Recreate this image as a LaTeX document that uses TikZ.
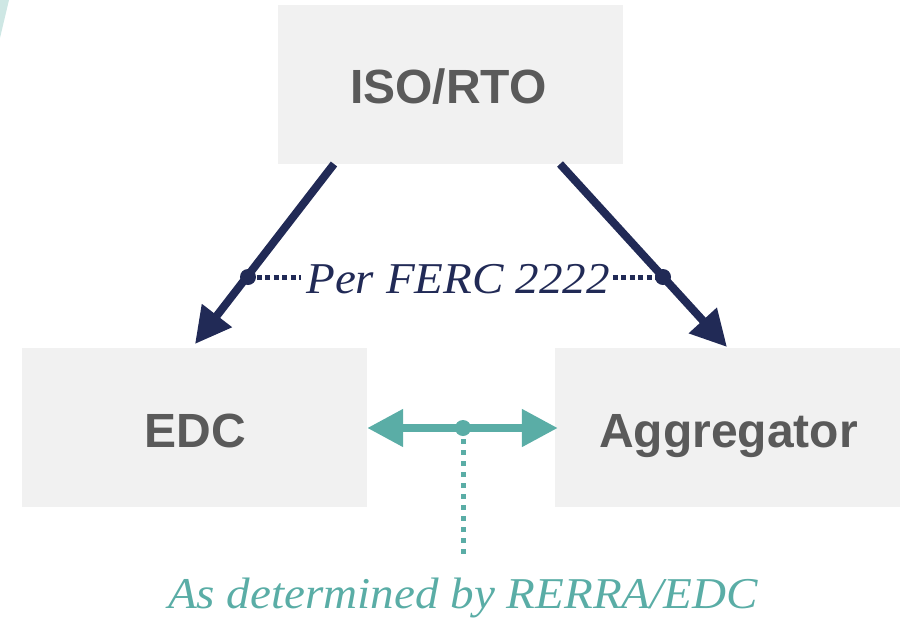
\documentclass[tikz,border=0pt]{standalone}
\usepackage{fontspec}
\setmainfont{Liberation Sans}
\newfontfamily\lblfont[FakeStretch=1.07]{Liberation Serif}
\usetikzlibrary{arrows.meta}
\definecolor{navy}{HTML}{212A56}
\definecolor{tealc}{HTML}{5AADA6}
\definecolor{boxgray}{HTML}{F1F1F1}
\definecolor{txtgray}{HTML}{5A5A5A}
\begin{document}
\begin{tikzpicture}[x=1pt,y=-1pt,
  box/.style={fill=boxgray, draw=none, minimum width=345pt, minimum height=159pt, inner sep=0pt},
  boxtext/.style={font=\fontsize{48}{48}\selectfont\bfseries, text=txtgray, anchor=base, inner sep=0pt},
  lbl/.style={font=\lblfont\itshape\fontsize{44}{44}\selectfont, anchor=base, inner sep=0pt},
  navyarrow/.style={draw=navy, line width=8pt, -{Triangle[length=36pt,width=36pt]}},
  navydot/.style={draw=navy, line width=5pt, dash pattern=on 5pt off 3.5pt},
  tealarrow/.style={draw=tealc, line width=8pt, {Triangle[length=36pt,width=36pt]}-{Triangle[length=36pt,width=36pt]}},
  tealdot/.style={draw=tealc, line width=5pt, dash pattern=on 5pt off 6pt}]
\useasboundingbox (0,0) rectangle (905,619);
\fill[tealc!30] (0,0) -- (9,0) -- (0,38) -- cycle;
% boxes
\node[box] (iso) at (450.5,84.5) {};
\node[box] (edc) at (194.5,427.5) {};
\node[box] (agg) at (727.5,427.5) {};
\node[boxtext] (isot) at (448.5,103) {ISO/RTO};
\node[boxtext] (edct) at (195,447) {EDC};
\node[boxtext] (aggt) at (728.5,447) {Aggregator};
% navy arrows
\coordinate (a1) at (334,164);
\coordinate (t1) at (195,344);
\coordinate (a2) at (560,164);
\coordinate (t2) at (727,347);
\draw[navyarrow] (a1) -- (t1);
\draw[navyarrow] (a2) -- (t2);
\coordinate (d1) at (248,277);
\coordinate (d2) at (663,277);
\node[lbl, text=navy] (per) at (458,293) {Per FERC 2222};
\draw[navydot] (d1) -- ([xshift=-5pt]per.west |- d1);
\draw[navydot] ([xshift=3pt]per.east |- d2) -- (d2);
\fill[navy] (d1) circle (8pt);
\fill[navy] (d2) circle (8pt);
% teal
\coordinate (m) at (463,428);
\coordinate (d3) at (463,554);
\draw[tealdot] (m) -- (d3);
\draw[tealarrow] (edc.east |- m) -- ([xshift=3pt]agg.west |- m);
\fill[tealc] (m) circle (8pt);
\node[lbl, text=tealc] (rerra) at (463,608) {As determined by RERRA/EDC};
\end{tikzpicture}
\end{document}
